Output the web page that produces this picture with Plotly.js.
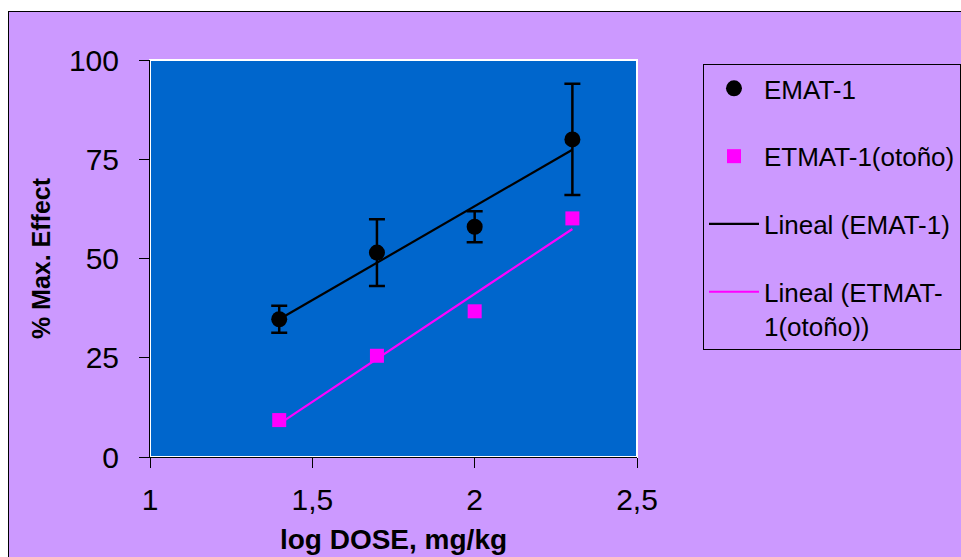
<!DOCTYPE html>
<html>
<head>
<meta charset="utf-8">
<script src="https://cdn.plot.ly/plotly-3.0.1.min.js"></script>
<style>
  html, body { margin: 0; padding: 0; background: #ffffff; }
  #frame {
    position: absolute; left: 8px; top: 11px;
    width: 952px; height: 545px;
    border-left: 1px solid #000; border-top: 1px solid #000;
    background: #CC99FF; overflow: hidden;
  }
  #chart { width: 952px; height: 545px; }
</style>
</head>
<body>
<div id="frame"><div id="chart"></div></div>
<script>
// ---- data ----
const logDose = [1.398, 1.699, 2.0, 2.301];
const ematEffect = [34.7, 51.5, 58.0, 80.0];
const ematError = [3.4, 8.4, 3.9, 14.0];
const etmatEffect = [9.3, 25.5, 36.7, 60.1];
const seriesNames = ["EMAT-1", "ETMAT-1(otoño)", "Lineal (EMAT-1)", "Lineal (ETMAT-<br>1(otoño))"];
const xTicks = [1, 1.5, 2, 2.5];
const yTicks = [0, 25, 50, 75, 100];

// least-squares trend line over the data (as Excel's "Lineal" trendline)
function linearFit(xs, ys) {
  const n = xs.length;
  const mx = xs.reduce((a, b) => a + b, 0) / n;
  const my = ys.reduce((a, b) => a + b, 0) / n;
  let sxy = 0, sxx = 0;
  for (let i = 0; i < n; i++) { sxy += (xs[i] - mx) * (ys[i] - my); sxx += (xs[i] - mx) ** 2; }
  const slope = sxy / sxx, icpt = my - slope * mx;
  const ends = [xs[0], xs[n - 1]];
  return { x: ends, y: ends.map(v => icpt + slope * v) };
}
const fitEmat = linearFit(logDose, ematEffect);
const fitEtmat = linearFit(logDose, etmatEffect);

const FONT = '"Liberation Sans", Arial, sans-serif';

const traces = [
  {
    x: logDose, y: ematEffect, name: seriesNames[0], type: 'scatter', mode: 'markers',
    legendgroup: 'a',
    marker: { symbol: 'circle', size: 16, color: '#000000' },
    error_y: { type: 'data', array: ematError, visible: true, color: '#000000', thickness: 2.5, width: 8 }
  },
  {
    x: logDose, y: etmatEffect, name: seriesNames[1], type: 'scatter', mode: 'markers',
    legendgroup: 'b',
    marker: { symbol: 'square', size: 14, color: '#FF00FF' }
  },
  {
    x: fitEmat.x, y: fitEmat.y, name: seriesNames[2], type: 'scatter', mode: 'lines',
    legendgroup: 'c',
    line: { color: '#000000', width: 2.2 }
  },
  {
    x: fitEtmat.x, y: fitEtmat.y, name: seriesNames[3], type: 'scatter', mode: 'lines',
    legendgroup: 'd',
    line: { color: '#FF00FF', width: 2.2 }
  }
];

const layout = {
  width: 952, height: 545,
  paper_bgcolor: '#CC99FF',
  plot_bgcolor: '#0066CC',
  separators: ', ',
  font: { family: FONT, color: '#000000', size: 26 },
  margin: { l: 141, r: 324, t: 48, b: 100, autoexpand: false },
  showlegend: true,
  legend: {
    x: 1.1355, y: 0.99, xanchor: 'left', yanchor: 'top',
    bgcolor: '#CC99FF', bordercolor: '#000000', borderwidth: 1,
    font: { family: FONT, size: 26, color: '#000000' },
    tracegroupgap: 31, itemwidth: 50, valign: 'top', traceorder: 'grouped',
    entrywidth: 290, entrywidthmode: 'pixels'
  },
  xaxis: {
    range: [1, 2.5], tickmode: 'array', tickvals: xTicks,
    ticks: 'outside', ticklen: 10, tickcolor: '#000000', tickwidth: 1,
    showline: true, linecolor: '#000000', linewidth: 1,
    showgrid: false, zeroline: false, automargin: true,
    tickfont: { family: FONT, size: 30, color: '#000000' },
    ticklabelstandoff: 6,
    title: { text: '<b>log DOSE, mg/kg</b>', font: { family: FONT, size: 28, color: '#000000' }, standoff: 14 }
  },
  yaxis: {
    range: [0, 100], tickmode: 'array', tickvals: yTicks,
    ticks: 'outside', ticklen: 10, tickcolor: '#000000', tickwidth: 1,
    showline: true, linecolor: '#000000', linewidth: 1,
    showgrid: false, zeroline: false, automargin: true,
    tickfont: { family: FONT, size: 30, color: '#000000' },
    ticklabelstandoff: 14,
    title: { text: '<b>% Max. Effect</b>', font: { family: FONT, size: 25, color: '#000000' }, standoff: 11 }
  },
  shapes: [
    { type: 'rect', xref: 'paper', yref: 'paper', x0: 0, x1: 1, y0: 0, y1: 1,
      line: { color: '#FFFFFF', width: 2 }, layer: 'below' }
  ]
};

Plotly.newPlot('chart', traces, layout, { staticPlot: true, displayModeBar: false });
</script>
</body>
</html>
